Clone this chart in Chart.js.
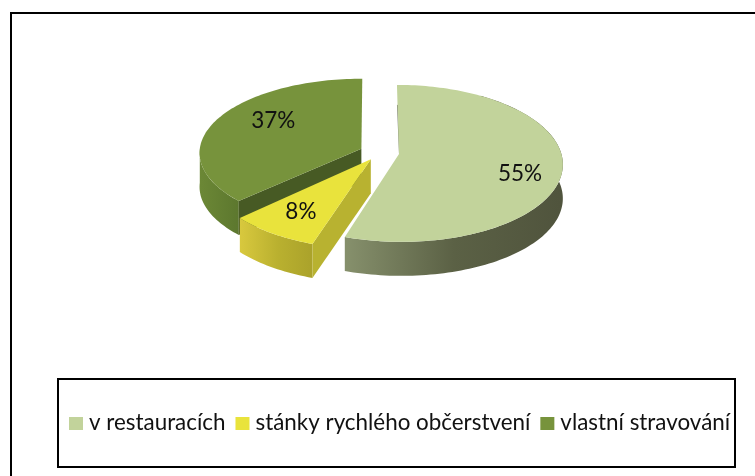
<!DOCTYPE html>
<html><head><meta charset="utf-8">
<style>html,body{margin:0;padding:0;background:#fff}#w{position:relative;width:755px;height:476px}</style>
<script src="https://cdn.jsdelivr.net/npm/chart.js@4"></script>
</head><body><div id="w"><canvas id="c" width="755" height="476"></canvas></div>
<script>
const categories = ['v restauracích', 'stánky rychlého občerstvení', 'vlastní stravování'];
const shares = [55, 8, 37];
const topColors = ['#c2d39b', '#e9e33c', '#77933c'];
const explode = [17, 15, 18];

const RX = 162, DEPTH = 34;
const shape = [{ p: 0.12, ry: 77 }, { p: 0.12, ry: 77 }, { p: 0.05, ry: 74 }];
const FONT = 'Lato, "Noto Sans", sans-serif';

function projector(el, i) {
  const R = el.outerRadius, off = el.options.offset || 0, s = shape[i];
  const mid = (el.startAngle + el.endAngle) / 2;
  const ou = off / R * Math.cos(mid), ov = off / R * Math.sin(mid);
  return (a, f, d) => {
    const u = ou + f * Math.cos(a), v = ov + f * Math.sin(a), den = 1 - s.p * v;
    return { x: el.x + RX * u / den, y: el.y + s.ry * v / den + (d || 0) };
  };
}
function arcPts(P, a0, a1, d) {
  const n = Math.max(2, Math.ceil(Math.abs(a1 - a0) * 40)), out = [];
  for (let i = 0; i <= n; i++) out.push(P(a0 + (a1 - a0) * i / n, 1, d));
  return out;
}
function poly(ctx, pts, fill) {
  ctx.beginPath();
  pts.forEach((p, i) => i ? ctx.lineTo(p.x, p.y) : ctx.moveTo(p.x, p.y));
  ctx.closePath(); ctx.fillStyle = fill; ctx.fill();
}
function grad(ctx, x0, x1, stops) {
  const g = ctx.createLinearGradient(x0, 0, x1, 0);
  stops.forEach(s => g.addColorStop(s[0], s[1]));
  return g;
}
const pie3d = {
  id: 'pie3d',
  beforeDraw(chart) {
    const ctx = chart.ctx;
    ctx.save();
    ctx.fillStyle = '#fff'; ctx.fillRect(0, 0, 755, 476);
    ctx.strokeStyle = '#000'; ctx.lineWidth = 2;
    ctx.beginPath(); ctx.moveTo(11, 476); ctx.lineTo(11, 13); ctx.lineTo(755, 13); ctx.stroke();
    ctx.strokeRect(58, 379, 677, 88);
    ctx.restore();
  },
  beforeDatasetDraw(chart) {
    const ctx = chart.ctx, arcs = chart.getDatasetMeta(0).data;
    const [light, yellow, dark] = arcs;
    const Pl = projector(light, 0), Py = projector(yellow, 1), Pd = projector(dark, 2);
    ctx.save();
    {
      const a0 = dark.startAngle, a1 = dark.endAngle;
      const top = arcPts(Pd, a0, Math.PI, 0), bot = arcPts(Pd, a0, Math.PI, DEPTH).reverse();
      poly(ctx, top.concat(bot), grad(ctx, 199, 240, [[0, '#6c8836'], [1, '#5c772e']]));
      const c = Pd(a0, 0, 0), e = Pd(a0, 1, 0);
      poly(ctx, [c, e, Pd(a0, 1, DEPTH), Pd(a0, 0, DEPTH)], '#475a24');
      poly(ctx, [c].concat(arcPts(Pd, a0, a1, 0)), topColors[2]);
    }
    {
      const a0 = yellow.startAngle, a1 = yellow.endAngle;
      const top = arcPts(Py, a0, a1, 0), bot = arcPts(Py, a0, a1, DEPTH).reverse();
      poly(ctx, top.concat(bot), grad(ctx, 239, 318, [[0, '#d9c93e'], [0.5, '#b9b02f'], [1, '#a8a02a']]));
      const c = Py(a0, 0, 0), e = Py(a0, 1, 0);
      poly(ctx, [c, e, Py(a0, 1, DEPTH), Py(a0, 0, DEPTH)], '#b8b230');
      poly(ctx, [c].concat(arcPts(Py, a0, a1, 0)), topColors[1]);
    }
    {
      const a0 = light.startAngle, a1 = light.endAngle;
      const c = Pl(a0, 0, 0);
      const a = Math.max(a0, -Math.PI / 2 + 0.6);
      const top = arcPts(Pl, a, a1, 0), bot = arcPts(Pl, a, a1, DEPTH).reverse();
      poly(ctx, top.concat(bot), grad(ctx, 348, 560, [[0, '#858f6b'], [0.5, '#5b6145'], [1, '#50543d']]));
      ctx.strokeStyle = 'rgba(70,75,55,0.7)'; ctx.lineWidth = 1;
      const t = Pl(a0, 1, 0);
      ctx.beginPath(); ctx.moveTo(t.x + 0.5, t.y + 20); ctx.lineTo(c.x + 0.5, c.y); ctx.stroke();
      poly(ctx, [c].concat(arcPts(Pl, a0, a1, 0)), topColors[0]);
    }
    ctx.restore();
    return false;
  },
  afterDatasetsDraw(chart) {
    const ctx = chart.ctx, arcs = chart.getDatasetMeta(0).data;
    const place = [[0.76, 0.17], [0.73, 0], [0.68, 0.2]];
    ctx.save();
    ctx.font = '22.5px ' + FONT; ctx.fillStyle = '#111';
    ctx.textAlign = 'center'; ctx.textBaseline = 'middle';
    arcs.forEach((el, i) => {
      const P = projector(el, i);
      const mid = (el.startAngle + el.endAngle) / 2 + place[i][1];
      const p = P(mid, place[i][0], 0);
      ctx.fillText(shares[i] + '%', p.x, p.y);
    });
    ctx.font = '22.4px ' + FONT; ctx.textAlign = 'left';
    let x = 69;
    categories.forEach((name, i) => {
      ctx.fillStyle = topColors[i]; ctx.fillRect(x, 417, 14, 13);
      ctx.fillStyle = '#111'; ctx.fillText(name, x + 20, 423);
      x += 20 + ctx.measureText(name).width + 10;
    });
    ctx.restore();
  }
};
new Chart(document.getElementById('c'), {
  type: 'pie',
  data: { labels: categories, datasets: [{ data: shares, backgroundColor: topColors, offset: explode, borderWidth: 0 }] },
  options: {
    responsive: false, animation: false,
    layout: { padding: { left: 5, right: 0, top: 0, bottom: 171 } },
    plugins: { tooltip: { enabled: false }, legend: { display: false } }
  },
  plugins: [pie3d]
});
</script></body></html>
